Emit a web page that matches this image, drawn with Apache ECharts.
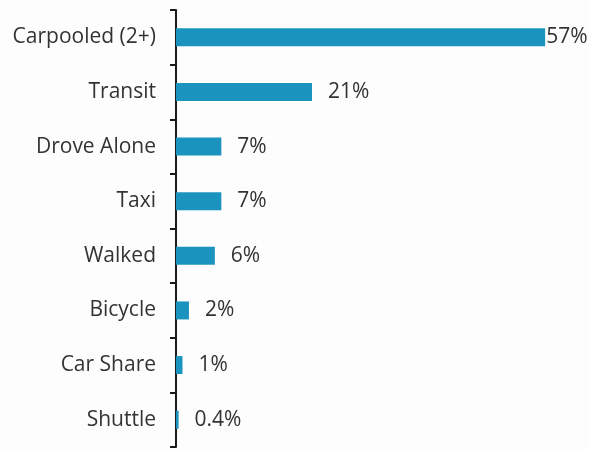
<!DOCTYPE html>
<html>
<head>
<meta charset="utf-8">
<script src="https://cdn.jsdelivr.net/npm/echarts@6/dist/echarts.min.js"></script>
<style>
  html, body { margin: 0; padding: 0; background: #fdfdfd; }
  #chart { width: 589px; height: 450px; }
</style>
</head>
<body>
<div id="chart"></div>
<script>
// Commute mode shares (percent of trips)
const modes = ['Carpooled (2+)', 'Transit', 'Drove Alone', 'Taxi', 'Walked', 'Bicycle', 'Car Share', 'Shuttle'];
const shares = [57, 21, 7, 7, 6, 2, 1, 0.4];
const shareLabels = ['57%', '21%', '7%', '7%', '6%', '2%', '1%', '0.4%'];

const chart = echarts.init(document.getElementById('chart'));

const barData = shares.map((v, i) => ({
  value: v,
  label: { distance: i === 0 ? 1 : 16 }
}));

chart.setOption({
  backgroundColor: '#fdfdfd',
  animation: false,
  grid: { left: 176, top: 10, bottom: 3, width: 408 },
  xAxis: {
    type: 'value',
    min: 0,
    max: 63,
    show: false
  },
  yAxis: {
    type: 'category',
    data: modes,
    inverse: true,
    offset: 4,
    axisLine: { show: true, lineStyle: { color: '#1a1a1a', width: 2 } },
    axisTick: { show: true, length: 6, lineStyle: { color: '#1a1a1a', width: 2 } },
    axisLabel: {
      color: '#333333',
      fontFamily: 'Open Sans',
      fontSize: 21,
      margin: 16
    }
  },
  series: [{
    type: 'bar',
    data: barData,
    barWidth: 18,
    itemStyle: { color: '#1b93bf' },
    label: {
      show: true,
      position: 'right',
      color: '#333333',
      fontFamily: 'Open Sans',
      fontSize: 21,
      formatter: p => shareLabels[p.dataIndex]
    }
  }]
});
</script>
</body>
</html>
